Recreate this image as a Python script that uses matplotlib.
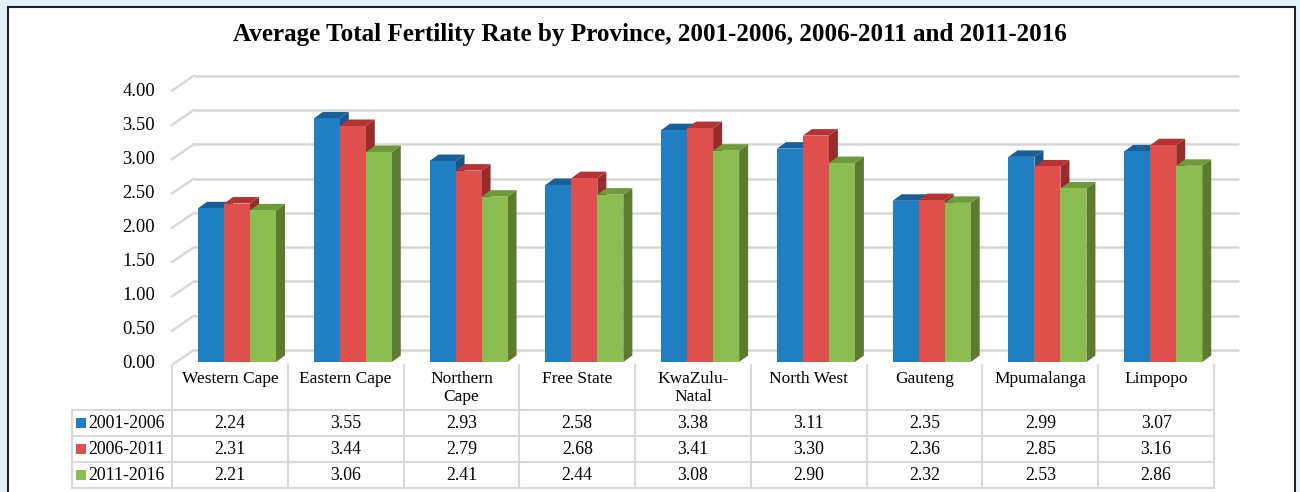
import numpy as np
import matplotlib
matplotlib.use("Agg")
import matplotlib.pyplot as plt
from matplotlib.patches import Polygon, Rectangle

plt.rcParams['font.family'] = ['Liberation Serif', 'DejaVu Serif']

# data
provinces = ["Western Cape", "Eastern Cape", "Northern\nCape", "Free State", "KwaZulu-\nNatal",
             "North West", "Gauteng", "Mpumalanga", "Limpopo"]
periods = ["2001-2006", "2006-2011", "2011-2016"]
tfr_0106 = [2.24, 3.55, 2.93, 2.58, 3.38, 3.11, 2.35, 2.99, 3.07]
tfr_0611 = [2.31, 3.44, 2.79, 2.68, 3.41, 3.30, 2.36, 2.85, 3.16]
tfr_1116 = [2.21, 3.06, 2.41, 2.44, 3.08, 2.90, 2.32, 2.53, 2.86]
series = [tfr_0106, tfr_0611, tfr_1116]
yticks = np.arange(0, 4.01, 0.5)

front = ['#1f7fc2', '#df4f4d', '#8cbd50']
tops = ['#1a6098', '#b23434', '#6e9a3c']
sides = ['#175687', '#982b2b', '#5b7c2e']

W, H = 1300, 492
fig = plt.figure(figsize=(W / 100, H / 100), dpi=100, facecolor='#e2f1fa')

# white chart frame
fig.patches.append(Rectangle((8 / W, -0.01), 1287 / W, (H - 7) / H + 0.01, transform=fig.transFigure,
                             facecolor='white', edgecolor='#222222', lw=1.5, zorder=-5))

fig.text(0.5, 1 - 35 / H, "Average Total Fertility Rate by Province, 2001-2006, 2006-2011 and 2011-2016",
         ha='center', va='center', fontsize=18.1, fontweight='bold')

# main axes: x = category index, y = TFR (front plane)
px_unit = 68.6
x0px, x1px = 172, 1214
base_px = 362
top_px = 40
ax = fig.add_axes([x0px / W, (H - base_px) / H, (x1px - x0px) / W, (base_px - top_px) / H])
ax.set_xlim(-0.5, 8.5)
ax.set_ylim(0, (base_px - top_px) / px_unit)
ax.axis('off')

cat_px = (x1px - x0px) / 9
def px_x(p):
    return p / cat_px
def px_y(p):
    return p / px_unit

# back wall gridlines
wdx, wdy = px_x(22), px_y(12)
for v in yticks:
    ax.plot([-0.5 + wdx, 8.5 + wdx + px_x(3)], [v + wdy, v + wdy], color='#d6d6d6', lw=1.8, zorder=1,
            clip_on=False, solid_capstyle='butt')
    ax.plot([-0.5, -0.5 + wdx], [v - px_y(3), v + wdy], color='#dadada', lw=1.8, zorder=1, clip_on=False)
    ax.text(-0.5 - px_x(17), v * 0.988 - px_y(1), f"{v:.2f}", ha='right', va='center', fontsize=13.3)

# 3d-look bars
bw = px_x(26)
off = px_x(26)
ddx, ddy = px_x(9), px_y(6.5)
for i in range(len(provinces)):
    for j, vals in enumerate(series):
        v = vals[i]
        xl = i - 0.5 + off + j * bw
        z = 3 + i * 3 + j
        ax.add_patch(Polygon([(xl + bw, 0), (xl + bw + ddx, ddy), (xl + bw + ddx, v + ddy), (xl + bw, v)],
                             closed=True, facecolor=sides[j], edgecolor='none', zorder=z))
        ax.add_patch(Polygon([(xl, v), (xl + bw, v), (xl + bw + ddx, v + ddy), (xl + ddx, v + ddy)],
                             closed=True, facecolor=tops[j], edgecolor='none', zorder=z))
        ax.bar(xl, v, width=bw, align='edge', color=front[j], zorder=z, linewidth=0)

# data table under the plot
tab_top = -px_y(365 - base_px)
rows_y = [-px_y(p - base_px) for p in (410, 436, 462, 488)]
lab_left = -0.5 - px_x(100)
gc = '#d9d9d9'
for k in range(10):
    ax.plot([k - 0.5, k - 0.5], [tab_top, rows_y[-1]], color=gc, lw=1.5, clip_on=False, zorder=1)
ax.plot([lab_left, lab_left], [rows_y[0], rows_y[-1]], color=gc, lw=1.5, clip_on=False)
for ry in rows_y:
    ax.plot([lab_left, 8.5], [ry, ry], color=gc, lw=1.5, clip_on=False)

for i, name in enumerate(provinces):
    ax.text(i, tab_top - px_y(6), name, ha='center', va='top', fontsize=12.5, linespacing=1.15)
for j, vals in enumerate(series):
    yc = (rows_y[j] + rows_y[j + 1]) / 2
    ax.add_patch(Rectangle((lab_left + px_x(4), yc - px_y(5)), px_x(10), px_y(10), facecolor=front[j],
                           edgecolor='none', clip_on=False))
    ax.text(lab_left + px_x(16), yc, periods[j], ha='left', va='center', fontsize=12.8)
    for i, v in enumerate(vals):
        ax.text(i, yc, f"{v:.2f}", ha='center', va='center', fontsize=12.8)

fig.savefig("out.png", dpi=100, facecolor=fig.get_facecolor())
